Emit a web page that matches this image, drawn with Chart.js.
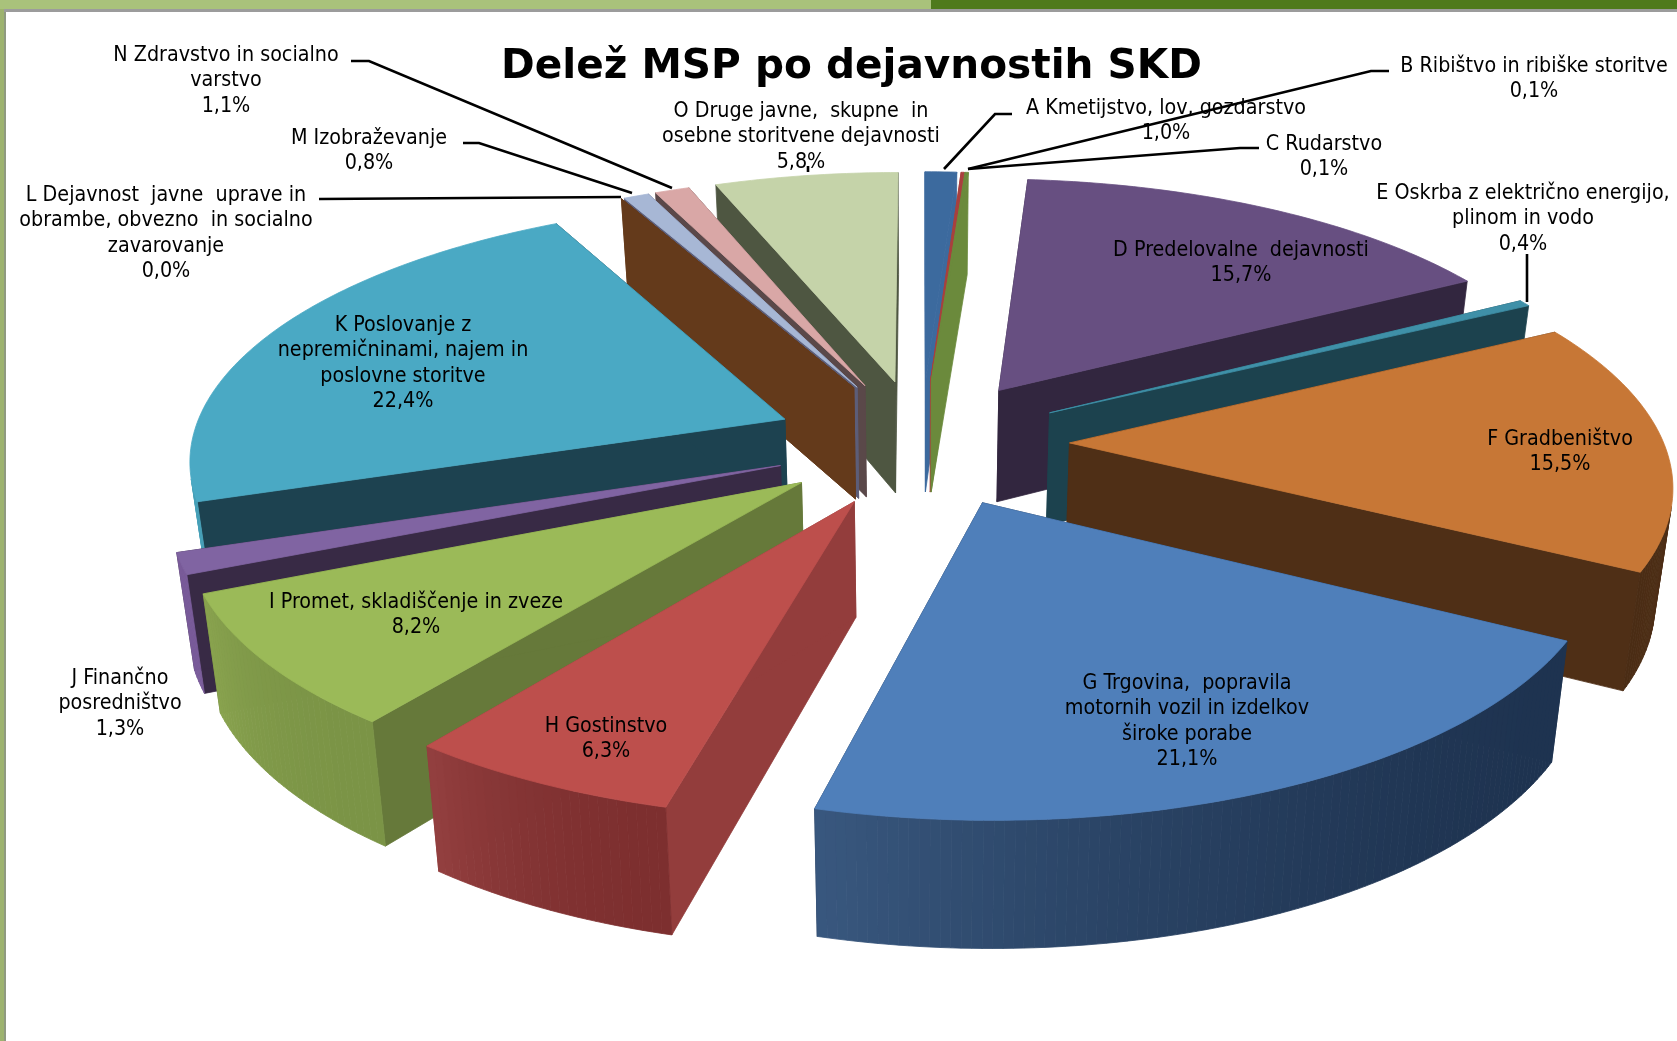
<!DOCTYPE html>
<html lang="sl">
<head>
<meta charset="utf-8">
<title>Delež MSP po dejavnostih SKD</title>
<script src="https://cdn.jsdelivr.net/npm/chart.js"></script>
<style>
  html,body{margin:0;padding:0;background:#fff;overflow:hidden}
  #barL{position:absolute;left:0;top:0;width:931px;height:9px;background:#a9c27b}
  #barR{position:absolute;left:931px;top:0;right:0;height:9px;background:#4f7a1c}
  #rule{position:absolute;left:0;top:9px;right:0;height:3px;background:#9c9c9c}
  #sideL{position:absolute;left:0;top:9px;bottom:0;width:4px;background:#9db36f}
  #sideR{position:absolute;left:4px;top:12px;bottom:0;width:2px;background:#8f9a80}
  #chart{position:absolute;left:0;top:0}
</style>
</head>
<body>
<div id="barL"></div><div id="barR"></div><div id="rule"></div><div id="sideL"></div><div id="sideR"></div>
<canvas id="chart" width="1677" height="1041"></canvas>

<script>
const categories = [
  'A Kmetijstvo, lov, gozdarstvo',
  'B Ribištvo in ribiške storitve',
  'C Rudarstvo',
  'D Predelovalne  dejavnosti',
  'E Oskrba z električno energijo,\nplinom in vodo',
  'F Gradbeništvo',
  'G Trgovina,  popravila\nmotornih vozil in izdelkov\nširoke porabe',
  'H Gostinstvo',
  'I Promet, skladiščenje in zveze',
  'J Finančno\nposredništvo',
  'K Poslovanje z\nnepremičninami, najem in\nposlovne storitve',
  'L Dejavnost  javne  uprave in\nobrambe, obvezno  in socialno\nzavarovanje',
  'M Izobraževanje',
  'N Zdravstvo in socialno\nvarstvo',
  'O Druge javne,  skupne  in\nosebne storitvene dejavnosti'
];
const shares = [1.0, 0.1, 0.1, 15.7, 0.4, 15.5, 21.1, 6.3, 8.2, 1.3, 22.4, 0.0, 0.8, 1.1, 5.8];

// top face, cut face, outer wall (start and end of the slice)
const topColors = ['#3c6a9e','#a8403e','#6b8a3c','#674f81','#3f90a8','#c77736','#4f7fba','#bd4f4c','#9bba58','#8064a2','#4aa9c4','#643a1b','#a7b7d5','#d9a7a6','#c5d3a9'];
const cutColors = ['#3c6a9e','#a8403e','#6b8a3c','#32263f','#1c424e','#4f2f16','#1e3350','#933d3c','#66793a','#382a45','#1d4250','#643a1b','#5c5d78','#5a4849','#4e5641'];
const rimStart  = ['#3c6a9e','#a8403e','#6b8a3c','#32263f','#1c424e','#4f2f16','#1e3350','#7d2f2f','#7b9446','#7a5c9a','#46a0b8','#643a1b','#5c5d78','#5a4849','#4e5641'];
const rimEnd    = ['#3c6a9e','#a8403e','#6b8a3c','#32263f','#1c424e','#4a2c14','#39587f','#944040','#8aa44f','#7a5c9a','#46a0b8','#643a1b','#5c5d78','#5a4849','#4e5641'];

// centre of the first line of every label
const labelPos = [
  [1166,108.5],[1534,66.5],[1324,144.5],[1241,250.5],[1523,193.5],[1560,439.5],[1187,683.5],[606,726.5],
  [416,602.5],[120,678.5],[403,325.5],[166,195.5],[369,138.5],[226,55.5],[801,111.5]
];
const lineHeight = 25.4;

const leaderLines = [
  [[1012,114],[995,114],[944,169]],
  [[1389,71],[1371,71],[968,169]],
  [[1259,148],[1240,148],[968,169]],
  [[1527,254],[1527,302]],
  [[319,199],[621,197]],
  [[463,143],[479,143],[632,193]],
  [[351,61],[369,61],[672,188]],
  [[808,166],[808,172]]
];

// camera used to lay the pie down
const view = { cx: 921, cy: 442.5, fx: 594, fy: 254.5, persp: 0.14, depth: 113.4, shrink: 0.976 };

function project(X, Y) {
  const w = 1 + view.persp * Y;
  return { x: view.cx + view.fx * X / w, y: view.cy - view.fy * Y / w, w };
}
function drop(p) {
  return { x: view.cx + (p.x - view.cx) * view.shrink, y: p.y + view.depth / Math.pow(p.w, 0.65), w: p.w };
}
function mix(a, b, t) {
  const ca = parseInt(a.slice(1), 16), cb = parseInt(b.slice(1), 16);
  const ch = s => Math.round(((ca >> s) & 255) * (1 - t) + ((cb >> s) & 255) * t);
  return `rgb(${ch(16)},${ch(8)},${ch(0)})`;
}
function fillPoly(ctx, pts, color) {
  ctx.beginPath();
  pts.forEach((p, i) => i ? ctx.lineTo(p.x, p.y) : ctx.moveTo(p.x, p.y));
  ctx.closePath();
  ctx.fillStyle = color;
  ctx.strokeStyle = color;
  ctx.lineWidth = 0.8;
  ctx.fill();
  ctx.stroke();
}

// the arcs keep their angles, radius and offset from Chart.js, only the drawing is tilted
const pie3d = {
  id: 'pie3d',
  beforeDatasetDraw() { return false; },
  afterDatasetsDraw(chart) {
    const ctx = chart.ctx;
    const arcs = chart.getDatasetMeta(0).data;
    const order = arcs.map((a, i) => i).sort((i, j) => {
      const m = a => (a.startAngle + a.endAngle) / 2;
      return Math.sin(m(arcs[i])) - Math.sin(m(arcs[j]));
    });
    ctx.save();
    order.forEach(i => {
      const arc = arcs[i];
      const mid = (arc.startAngle + arc.endAngle) / 2;
      const e = arc.options.offset / 4 / arc.outerRadius;
      const at = (a, r) => project(e * Math.cos(mid) + r * Math.cos(a), -(e * Math.sin(mid) + r * Math.sin(a)));
      const apex = at(mid, 0);
      const steps = Math.max(2, Math.ceil((arc.endAngle - arc.startAngle) / 0.015));
      const rim = [];
      for (let s = 0; s <= steps; s++) rim.push(at(arc.startAngle + (arc.endAngle - arc.startAngle) * s / steps, 1));
      const first = rim[0], last = rim[steps];
      fillPoly(ctx, [apex, first, drop(first), drop(apex)], cutColors[i]);
      fillPoly(ctx, [apex, last, drop(last), drop(apex)], cutColors[i]);
      for (let s = 0; s < steps; s++) {
        const a = rim[s], b = rim[s + 1], c = drop(b);
        // skip the wall pieces that turn away from the camera
        if ((b.x - a.x) * (c.y - b.y) - (b.y - a.y) * (c.x - b.x) >= 0) continue;
        fillPoly(ctx, [a, b, c, drop(a)], mix(rimStart[i], rimEnd[i], Math.pow(s / steps, 2)));
      }
      fillPoly(ctx, [apex, ...rim], arc.options.backgroundColor);
    });
    ctx.restore();
  }
};

const pieLabels = {
  id: 'pieLabels',
  afterDraw(chart) {
    const ctx = chart.ctx;
    ctx.save();
    ctx.strokeStyle = '#000';
    ctx.lineWidth = 2.6;
    leaderLines.forEach(line => {
      ctx.beginPath();
      line.forEach((p, i) => i ? ctx.lineTo(p[0], p[1]) : ctx.moveTo(p[0], p[1]));
      ctx.stroke();
    });
    ctx.fillStyle = '#000';
    ctx.font = '21.3px "DejaVu Sans Condensed", "DejaVu Sans"';
    ctx.textAlign = 'center';
    ctx.textBaseline = 'middle';
    categories.forEach((name, i) => {
      const lines = name.split('\n').concat(shares[i].toFixed(1).replace('.', ',') + '%');
      lines.forEach((txt, k) => {
        ctx.fillText(txt, labelPos[i][0], labelPos[i][1] + k * lineHeight);
      });
    });
    ctx.restore();
  }
};

new Chart(document.getElementById('chart'), {
  type: 'pie',
  data: {
    labels: categories,
    datasets: [{
      data: shares,
      backgroundColor: topColors,
      borderWidth: 0,
      offset: 400
    }]
  },
  options: {
    responsive: false,
    animation: false,
    radius: 400,
    layout: { padding: { left: 26 } },
    plugins: {
      legend: { display: false },
      tooltip: { enabled: false },
      title: {
        display: true,
        fullSize: false,
        text: 'Delež MSP po dejavnostih SKD',
        color: '#000',
        font: { family: '"DejaVu Sans", sans-serif', size: 40.6, weight: 'bold' },
        padding: { top: 43, bottom: 10 }
      }
    }
  },
  plugins: [pie3d, pieLabels]
});
</script>
</body>
</html>
